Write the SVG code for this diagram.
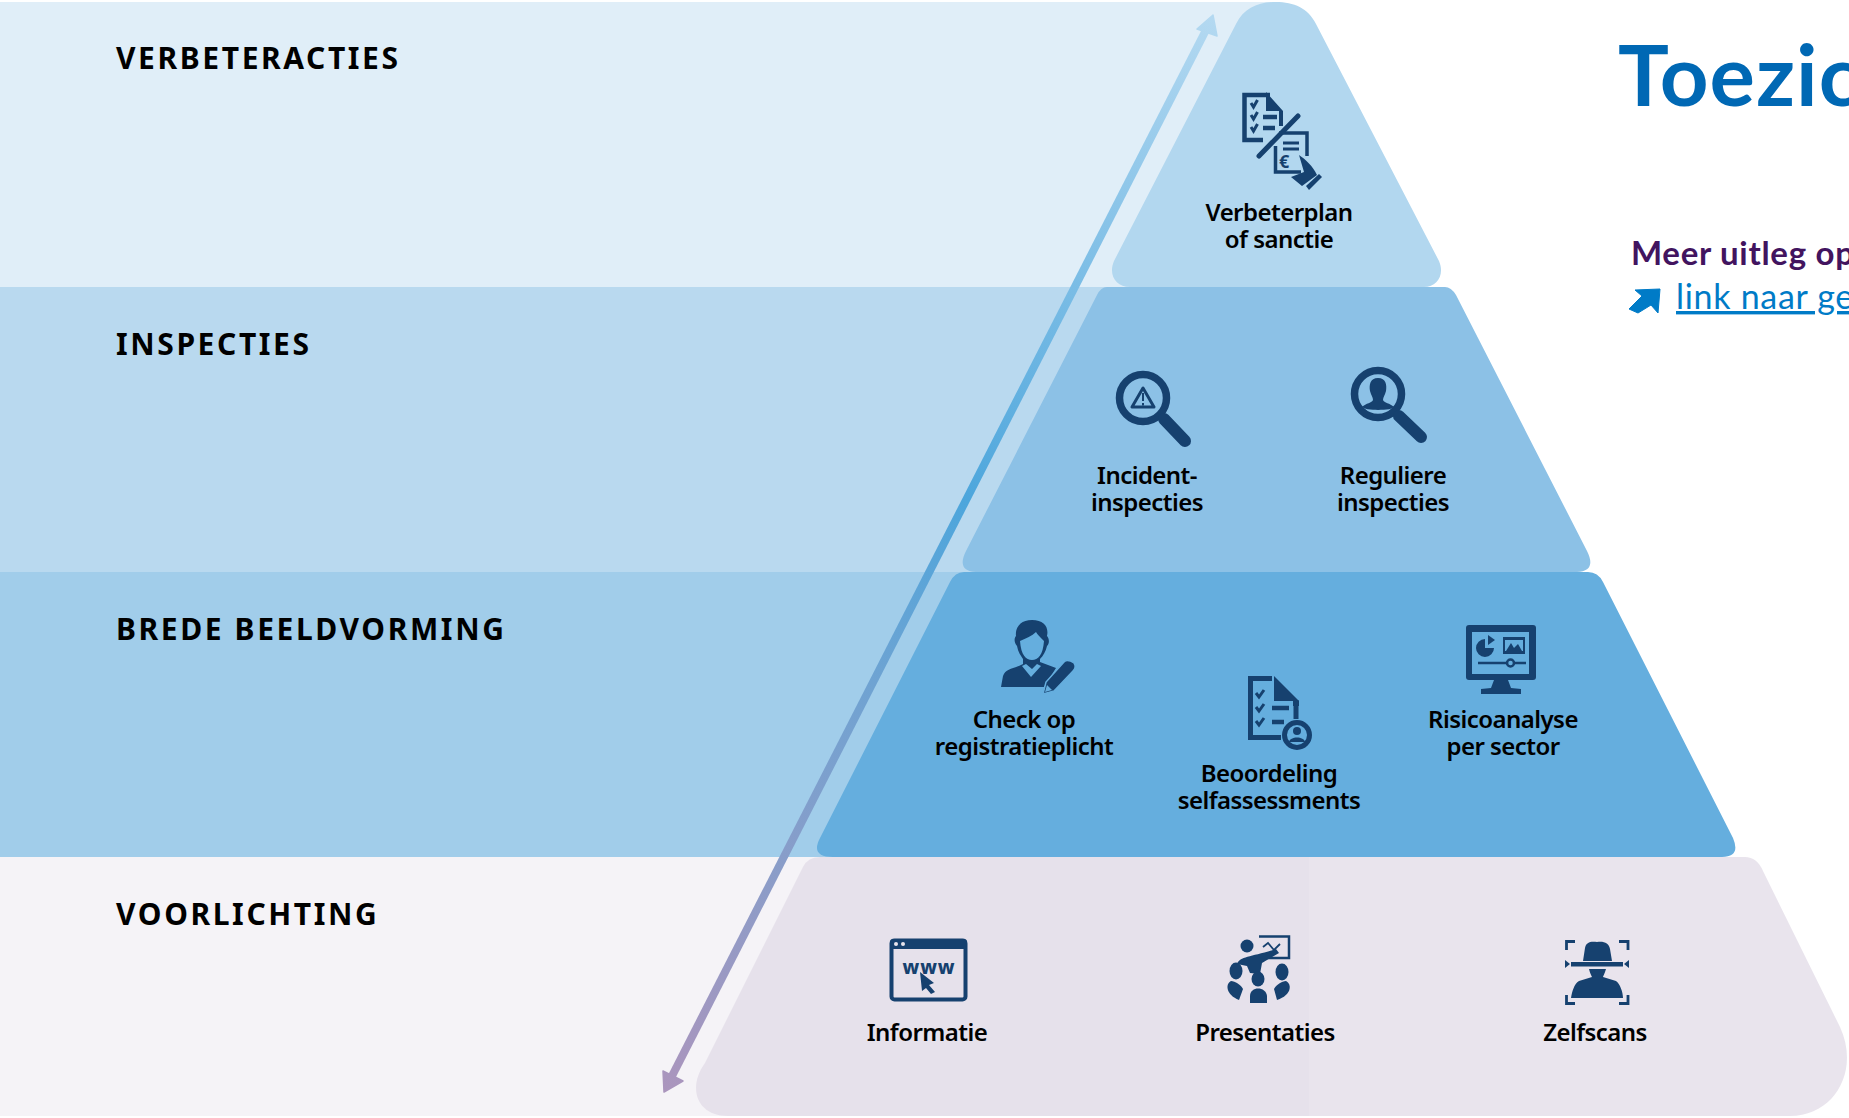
<svg xmlns="http://www.w3.org/2000/svg" width="1849" height="1118" viewBox="0 0 1849 1118">
<style>
.h{font-family:"Noto Sans","Open Sans",sans-serif;font-weight:700;font-size:30px;letter-spacing:2.6px;fill:#000}
.l{font-family:"Noto Sans","Open Sans",sans-serif;font-weight:600;font-size:24px;letter-spacing:-.55px;fill:#000;text-anchor:middle}
.i{fill:#16416f}
.s{fill:none;stroke:#16416f;stroke-width:4.5}
.c{fill:none;stroke:#16416f;stroke-width:3}
</style>
<defs>
<linearGradient id="ag" gradientUnits="userSpaceOnUse" x1="1213" y1="15" x2="664" y2="1092">
<stop offset="0" stop-color="#b4d9f1"/><stop offset=".45" stop-color="#4da6dc"/><stop offset=".62" stop-color="#6fa3d2"/><stop offset="1" stop-color="#ab95bd"/>
</linearGradient>
</defs>
<rect width="1849" height="1118" fill="#fff"/>
<g id="band-verbeteracties"><rect x="0" y="2" width="1277" height="285" fill="#e0eef8"/><text class="h" x="116" y="69">VERBETERACTIES</text></g>
<g id="band-inspecties"><rect x="0" y="287" width="1277" height="285" fill="#b9d9ef"/><text class="h" x="116" y="355">INSPECTIES</text></g>
<g id="band-beeldvorming"><rect x="0" y="572" width="1277" height="285" fill="#a1cdea"/><text class="h" x="116" y="640">BREDE BEELDVORMING</text></g>
<g id="band-voorlichting"><rect x="0" y="857" width="1309" height="259" fill="#f5f3f7"/><text class="h" x="116" y="925">VOORLICHTING</text></g>

<g id="tier-voorlichting"><path d="M820,857 L1745,857 Q1757,857 1763,871 L1840,1027 C1860,1070 1835,1116 1790,1116 L728,1116 C697,1116 687,1088 705,1063 L803,867 Q808,857 820,857 Z" fill="#e0d9e5" fill-opacity=".7"/></g>
<g id="tier-beeldvorming"><path d="M964,572 L1588,572 Q1598,572 1603,582 L1733,838 Q1741,857 1722,857 L833,857 Q810,857 820,838 L950,582 Q955,572 964,572 Z" fill="#65aede"/></g>
<g id="tier-inspecties"><path d="M1107,287 L1445,287 Q1451,287 1456,295 L1587,551 Q1597,571 1577,572 L976,572 Q956,571 966,551 L1097,295 Q1101,287 1107,287 Z" fill="#8cc1e6"/></g>
<g id="tier-verbeteracties"><path d="M1130,287 C1116,287 1108,275 1114,261 L1236,24 C1244,8 1258,2 1276,2 C1294,2 1308,8 1316,24 L1439,261 C1445,275 1437,287 1424,287 Z" fill="#b2d7ef"/></g>

<g id="connectors">
<line x1="1206" y1="30" x2="671" y2="1078" stroke="url(#ag)" stroke-width="8"/>
<polygon points="1213,15 1197,29 1217,36" fill="url(#ag)" stroke="url(#ag)" stroke-width="1.5" stroke-linejoin="round"/>
<polygon points="664,1092 663,1071 683,1081" fill="url(#ag)" stroke="url(#ag)" stroke-width="1.5" stroke-linejoin="round"/>
</g>

<g id="node-verbeterplan">
<path class="s" d="M1270,95 H1244.500 V140 H1263"/>
<path class="i" d="M1266,92 L1283,111 V126 H1279 V111 H1266 Z"/>
<path class="c" d="M1251,103 l2.500,4 4,-7 M1251,115 l2.500,4 4,-7 M1251,127 l2.500,4 4,-7"/>
<path class="s" d="M1263,117 H1277 M1263,128 H1275"/>
<path d="M1298,116 L1259,156" stroke="#16416f" stroke-width="5" fill="none" stroke-linecap="round"/>
<path class="s" d="M1279,133 H1307 V156 M1275.500,146 V172 H1301" style="stroke-width:3.500"/>
<path class="s" d="M1283,143 H1299 M1283,149 H1299" style="stroke-width:3"/>
<text x="1279" y="168" font-family="Noto Sans,sans-serif" font-weight="700" font-size="18" fill="#16416f">€</text>
<path class="i" d="M1299,155 C1305,159 1313,166 1317,175 L1302,186 L1291,177 L1304,172 Z"/>
<path class="i" d="M1309,190 L1306,186 L1319,174 L1322,177 Z"/>
<text class="l" x="1279" y="221">Verbeterplan</text><text class="l" x="1279" y="248">of sanctie</text>
</g>

<g id="node-incident">
<circle class="s" cx="1143" cy="398" r="23.500" style="stroke-width:7.500"/>
<line x1="1164" y1="419" x2="1185" y2="441" stroke="#16416f" stroke-width="12" stroke-linecap="round"/>
<path d="M1143,388 L1132,407 H1154 Z" fill="none" stroke="#16416f" stroke-width="3" stroke-linejoin="round"/>
<path d="M1143,393 V401 M1143,403 V405.500" stroke="#16416f" stroke-width="2"/>
<text class="l" x="1147" y="484">Incident-</text><text class="l" x="1147" y="511">inspecties</text>
</g>

<g id="node-reguliere">
<circle class="s" cx="1378" cy="394" r="23.500" style="stroke-width:7.500"/>
<line x1="1399" y1="416" x2="1421" y2="437" stroke="#16416f" stroke-width="12" stroke-linecap="round"/>
<path class="i" d="M1378,378 C1370,378 1369,385 1370,391 C1371,395 1373,397 1373,400 C1372,403 1366,403 1362,407 C1368,411 1373,409 1378,410 C1384,409 1389,411 1394,407 C1390,403 1384,403 1383,400 C1383,397 1385,395 1386,391 C1387,385 1386,378 1378,378 Z"/>
<text class="l" x="1393" y="484">Reguliere</text><text class="l" x="1393" y="511">inspecties</text>
</g>

<g id="node-check">
<path class="i" d="M1032,620 C1020,620 1015,628 1016,636 C1014,638 1014,643 1017,646 C1018,652 1021,656 1023,659 L1023,664 C1014,669 1006,668 1003,676 L1001,687 H1044 L1056,668 L1040,662 L1040,659 C1043,656 1046,651 1047,646 C1050,643 1049,638 1047,636 C1049,627 1044,620 1032,620 Z"/>
<path d="M1020,641 C1021,655 1026,660 1032,660 C1038,660 1043,655 1044,641 C1040,637 1037,634 1036,632 C1032,636 1026,638 1020,641 Z" fill="#65aede"/>
<path d="M1022,666 L1031,677 L1041,666 L1037,664 L1032,669 L1026,664 Z" fill="#65aede"/>
<path d="M1043,694 L1046,682 L1064,662 C1067,659 1071,661 1074,663 C1076,666 1075,669 1073,671 L1054,691 Z" class="i" stroke="#65aede" stroke-width="1.500"/>
<path d="M1045,692 L1047,685 L1052,690 Z" fill="#65aede"/>
<text class="l" x="1024" y="728">Check op</text><text class="l" x="1024" y="755">registratieplicht</text>
</g>

<g id="node-beoordeling">
<path class="s" d="M1272,678.500 H1250.500 V737.500 H1281 M1296,700 V719" style="stroke-width:5"/>
<path class="i" d="M1274,676 L1299,701 V706 H1293 V701 H1274 Z"/>
<path class="c" d="M1256,693 l3,4 5,-7 M1256,707 l3,4 5,-7 M1256,721 l3,4 5,-7"/>
<path class="s" d="M1272,708 H1289 M1272,722 H1284"/>
<circle class="s" cx="1297" cy="735" r="12.500" style="stroke-width:5"/>
<circle class="i" cx="1297" cy="731" r="4"/>
<path class="i" d="M1289,742 C1290,736 1304,736 1305,742 Z"/>
<text class="l" x="1269" y="782">Beoordeling</text><text class="l" x="1269" y="809">selfassessments</text>
</g>

<g id="node-risico">
<path class="i" d="M1469,625 H1533 Q1536,625 1536,628 V677 Q1536,680 1533,680 H1469 Q1466,680 1466,677 V628 Q1466,625 1469,625 Z"/>
<rect x="1472" y="632" width="57" height="42" fill="#65aede"/>
<path class="i" d="M1494,680 H1508 L1511,688 L1521,689 V694 H1481 V689 L1491,688 Z"/>
<path class="i" d="M1485,639 V648 H1494 A9,9 0 1 1 1485,639 Z"/>
<path class="i" d="M1488,635 L1495,640 L1488,645 Z"/>
<rect x="1503" y="637" width="22" height="17" class="i"/>
<rect x="1505" y="640" width="18" height="11" fill="#65aede"/>
<path class="i" d="M1506,651 L1511,643 L1514,648 L1518,644 L1522,651 Z"/>
<path d="M1478,663 H1526" stroke="#16416f" stroke-width="2.500"/>
<circle cx="1510.500" cy="663" r="3.500" fill="#65aede" stroke="#16416f" stroke-width="2.500"/>
<text class="l" x="1503" y="728">Risicoanalyse</text><text class="l" x="1503" y="755">per sector</text>
</g>

<g id="node-informatie">
<rect x="891.500" y="940.500" width="74" height="59" rx="3" fill="none" stroke="#16416f" stroke-width="4"/>
<path class="i" d="M893,939 H964 Q967,939 967,942 V949 H890 V942 Q890,939 893,939 Z"/>
<circle cx="896" cy="944" r="2" fill="#e8e4ec"/><circle cx="903" cy="944" r="2" fill="#e8e4ec"/>
<text x="929" y="974" text-anchor="middle" font-family="Noto Sans,sans-serif" font-weight="800" font-size="19" letter-spacing="1" fill="#16416f">www</text>
<path class="i" d="M920,972 L934,983 L929,985 L935,992 L931,994 L926,988 L922,991 Z"/>
<text class="l" x="927" y="1041">Informatie</text>
</g>

<g id="node-presentaties">
<path class="s" d="M1259,936.500 H1289 V958 H1266" style="stroke-width:2.500"/>
<path d="M1263,947 l5,-4 l6,7 l6,-6" fill="none" stroke="#16416f" stroke-width="1.800"/>
<circle class="i" cx="1247" cy="946" r="6.500"/>
<path class="i" d="M1237,964 C1240,956 1252,957 1276,949 L1279,953 L1262,963 L1260,974 L1250,973 L1247,966 Z"/>
<ellipse class="i" cx="1236" cy="971" rx="6.500" ry="8.500"/>
<ellipse class="i" cx="1258" cy="979" rx="6.500" ry="7.500"/>
<ellipse class="i" cx="1282" cy="972" rx="6.500" ry="8.500"/>
<path class="i" d="M1231,981 C1225,984 1226,995 1239,1000 L1243,989 C1241,985 1235,981 1231,981 Z"/>
<path class="i" d="M1250,1003 V996 C1250,986 1266,986 1267,996 V1003 Z"/>
<path class="i" d="M1286,981 C1292,984 1292,995 1277,1000 L1274,989 C1276,985 1282,981 1286,981 Z"/>
<text class="l" x="1265" y="1041">Presentaties</text>
</g>

<g id="node-zelfscans">
<path class="i" d="M1583,961 L1585,948 C1586,942 1591,941 1597,942 C1604,941 1609,943 1610,949 L1612,961 Z"/>
<rect x="1571" y="962" width="52" height="4.500" class="i"/>
<path class="i" d="M1589,969 H1606 C1605,973 1603,976 1603,977 L1616,981 C1620,984 1623,992 1623,998 H1571 C1572,992 1574,984 1579,981 L1592,977 C1591,975 1590,973 1589,969 Z"/>
<path fill="none" stroke="#16416f" stroke-width="2.800" d="M1566.500,950 V941.500 H1575 M1619,941.500 H1628 V950 M1566.500,995 V1003.500 H1575 M1619,1003.500 H1628 V995"/>
<path class="i" d="M1565,960 L1570,964 L1565,968 Z M1629,960 L1624,964 L1629,968 Z"/>
<text class="l" x="1595" y="1041">Zelfscans</text>
</g>

<g id="title"><text x="1618" y="106" font-family="Lato,sans-serif" font-weight="700" font-size="85" letter-spacing="1" fill="#0068b4">Toezic</text></g>
<g id="uitleg"><text x="1631" y="265" font-family="Lato,sans-serif" font-weight="700" font-size="33" letter-spacing=".7" fill="#42145f">Meer uitleg op</text></g>
<g id="link">
<path d="M1629,309 L1642,296 L1635,290 L1660,289 L1658,313 L1651,305 L1638,313 Z" fill="#007bc7" stroke="#007bc7" stroke-width="1" stroke-linejoin="round"/>
<text x="1676" y="309" font-family="Lato,sans-serif" font-size="34" letter-spacing=".7" fill="#007bc7" text-decoration="underline">link naar ge</text>
</g>
</svg>
